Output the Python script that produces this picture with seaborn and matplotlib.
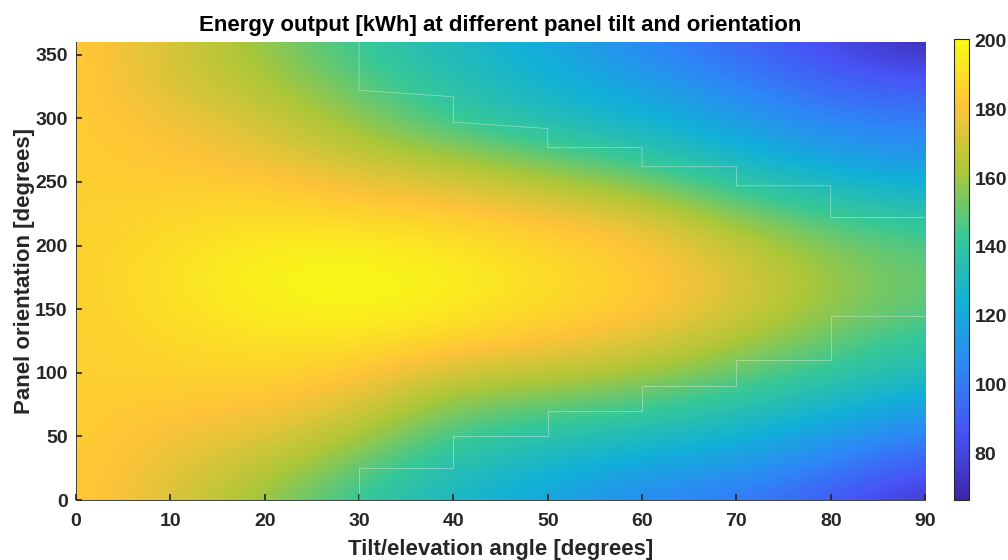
import numpy as np
import matplotlib
matplotlib.use("Agg")
import matplotlib.pyplot as plt
import seaborn as sns
from matplotlib.colors import LinearSegmentedColormap

# Grid: tilt (columns) x orientation (rows), energy in kWh
tilt = [0, 10, 20, 30, 40, 50, 60, 70, 80, 90]
orientation = [0, 30, 60, 90, 120, 150, 180, 210, 240, 270, 300, 330, 360]
energy = [
    [185, 173, 158, 141, 128, 118, 105, 100, 88, 73],
    [185, 176, 168, 152, 135, 128, 120, 116, 103, 90],
    [185, 180, 178, 167, 148, 142, 137, 130, 120, 107],
    [185, 185, 185, 180, 163, 160, 155, 146, 136, 127],
    [185, 188, 191, 190, 184, 179, 172, 160, 149, 138],
    [185, 191, 196, 199, 195, 189, 184, 172, 158, 148],
    [185, 192, 198, 200, 196, 190, 184, 173, 159, 150],
    [185, 189, 193, 193, 190, 185, 180, 164, 151, 143],
    [185, 185, 187, 180, 178, 170, 161, 145, 134, 128],
    [185, 182, 177, 168, 160, 150, 140, 127, 117, 111],
    [185, 178, 170, 157, 142, 132, 125, 115, 103, 100],
    [185, 172, 163, 148, 135, 125, 115, 103, 90, 86],
    [185, 172, 158, 142, 130, 120, 105, 93, 82, 68],
]

# Step boundary lines
tilt_top = [30, 30, 40, 40, 50, 50, 60, 60, 70, 70, 80, 80, 90]
orient_top = [360, 322, 317, 297, 292, 277, 277, 262, 262, 247, 247, 222, 222]
tilt_bot = [30, 30, 40, 40, 50, 50, 60, 60, 70, 70, 80, 80, 90]
orient_bot = [0, 25, 25, 50, 50, 70, 70, 90, 90, 110, 110, 145, 145]

colorbar_ticks = [80, 100, 120, 140, 160, 180, 200]

sns.set_theme(style="white")
plt.rcParams["font.family"] = ["Liberation Sans", "DejaVu Sans"]
plt.rcParams["font.weight"] = "bold"
plt.rcParams["axes.titleweight"] = "bold"
plt.rcParams["axes.labelweight"] = "bold"

# MATLAB parula approximation
parula = LinearSegmentedColormap.from_list("parula", [
    (0.2422, 0.1504, 0.6603),
    (0.2810, 0.3228, 0.9579),
    (0.1786, 0.5289, 0.9682),
    (0.0689, 0.6948, 0.8394),
    (0.2161, 0.7843, 0.5923),
    (0.6720, 0.7793, 0.2227),
    (0.9970, 0.7659, 0.2199),
    (0.9769, 0.9839, 0.0805),
])

fig = plt.figure(figsize=(10.08, 5.6), dpi=100)
ax = fig.add_axes([0.0754, 0.107, 0.8423, 0.818])
cax = fig.add_axes([0.9464, 0.107, 0.0154, 0.823])

im = ax.imshow(np.array(energy), origin="lower", aspect="auto", cmap=parula,
               vmin=66.4, vmax=200.4, interpolation="bicubic",
               extent=[tilt[0] - 5, tilt[-1] + 5,
                       orientation[0] - 15, orientation[-1] + 15])

sns.lineplot(x=tilt_top, y=orient_top, sort=False, estimator=None, ax=ax,
             color="white", lw=0.6, alpha=0.4)
sns.lineplot(x=tilt_bot, y=orient_bot, sort=False, estimator=None, ax=ax,
             color="white", lw=0.6, alpha=0.4)

ax.set_xlim(0, 90)
ax.set_ylim(0, 360)
ax.set_xticks(range(0, 91, 10))
ax.set_yticks(range(0, 351, 50))
ax.tick_params(direction="in", length=4, labelsize=14, colors="#262626",
               left=True, bottom=True)
ax.tick_params(axis="x", pad=9)
ax.tick_params(axis="y", pad=6)
for side in ["top", "right"]:
    ax.spines[side].set_visible(False)
for side in ["left", "bottom"]:
    ax.spines[side].set_color("#262626")
    ax.spines[side].set_linewidth(0.6)

ax.set_title("Energy output [kWh] at different panel tilt and orientation",
             fontsize=16, color="black", pad=8)
ax.set_xlabel("Tilt/elevation angle [degrees]", fontsize=16, color="#262626", labelpad=7)
ax.set_ylabel("Panel orientation [degrees]", fontsize=16, color="#262626", labelpad=0)

cb = fig.colorbar(im, cax=cax)
cb.set_ticks(colorbar_ticks)
cax.tick_params(direction="in", length=4, labelsize=14, colors="#262626", right=True)
cb.outline.set_edgecolor("#262626")
cb.outline.set_linewidth(0.8)

fig.savefig("out.png", dpi=100)
